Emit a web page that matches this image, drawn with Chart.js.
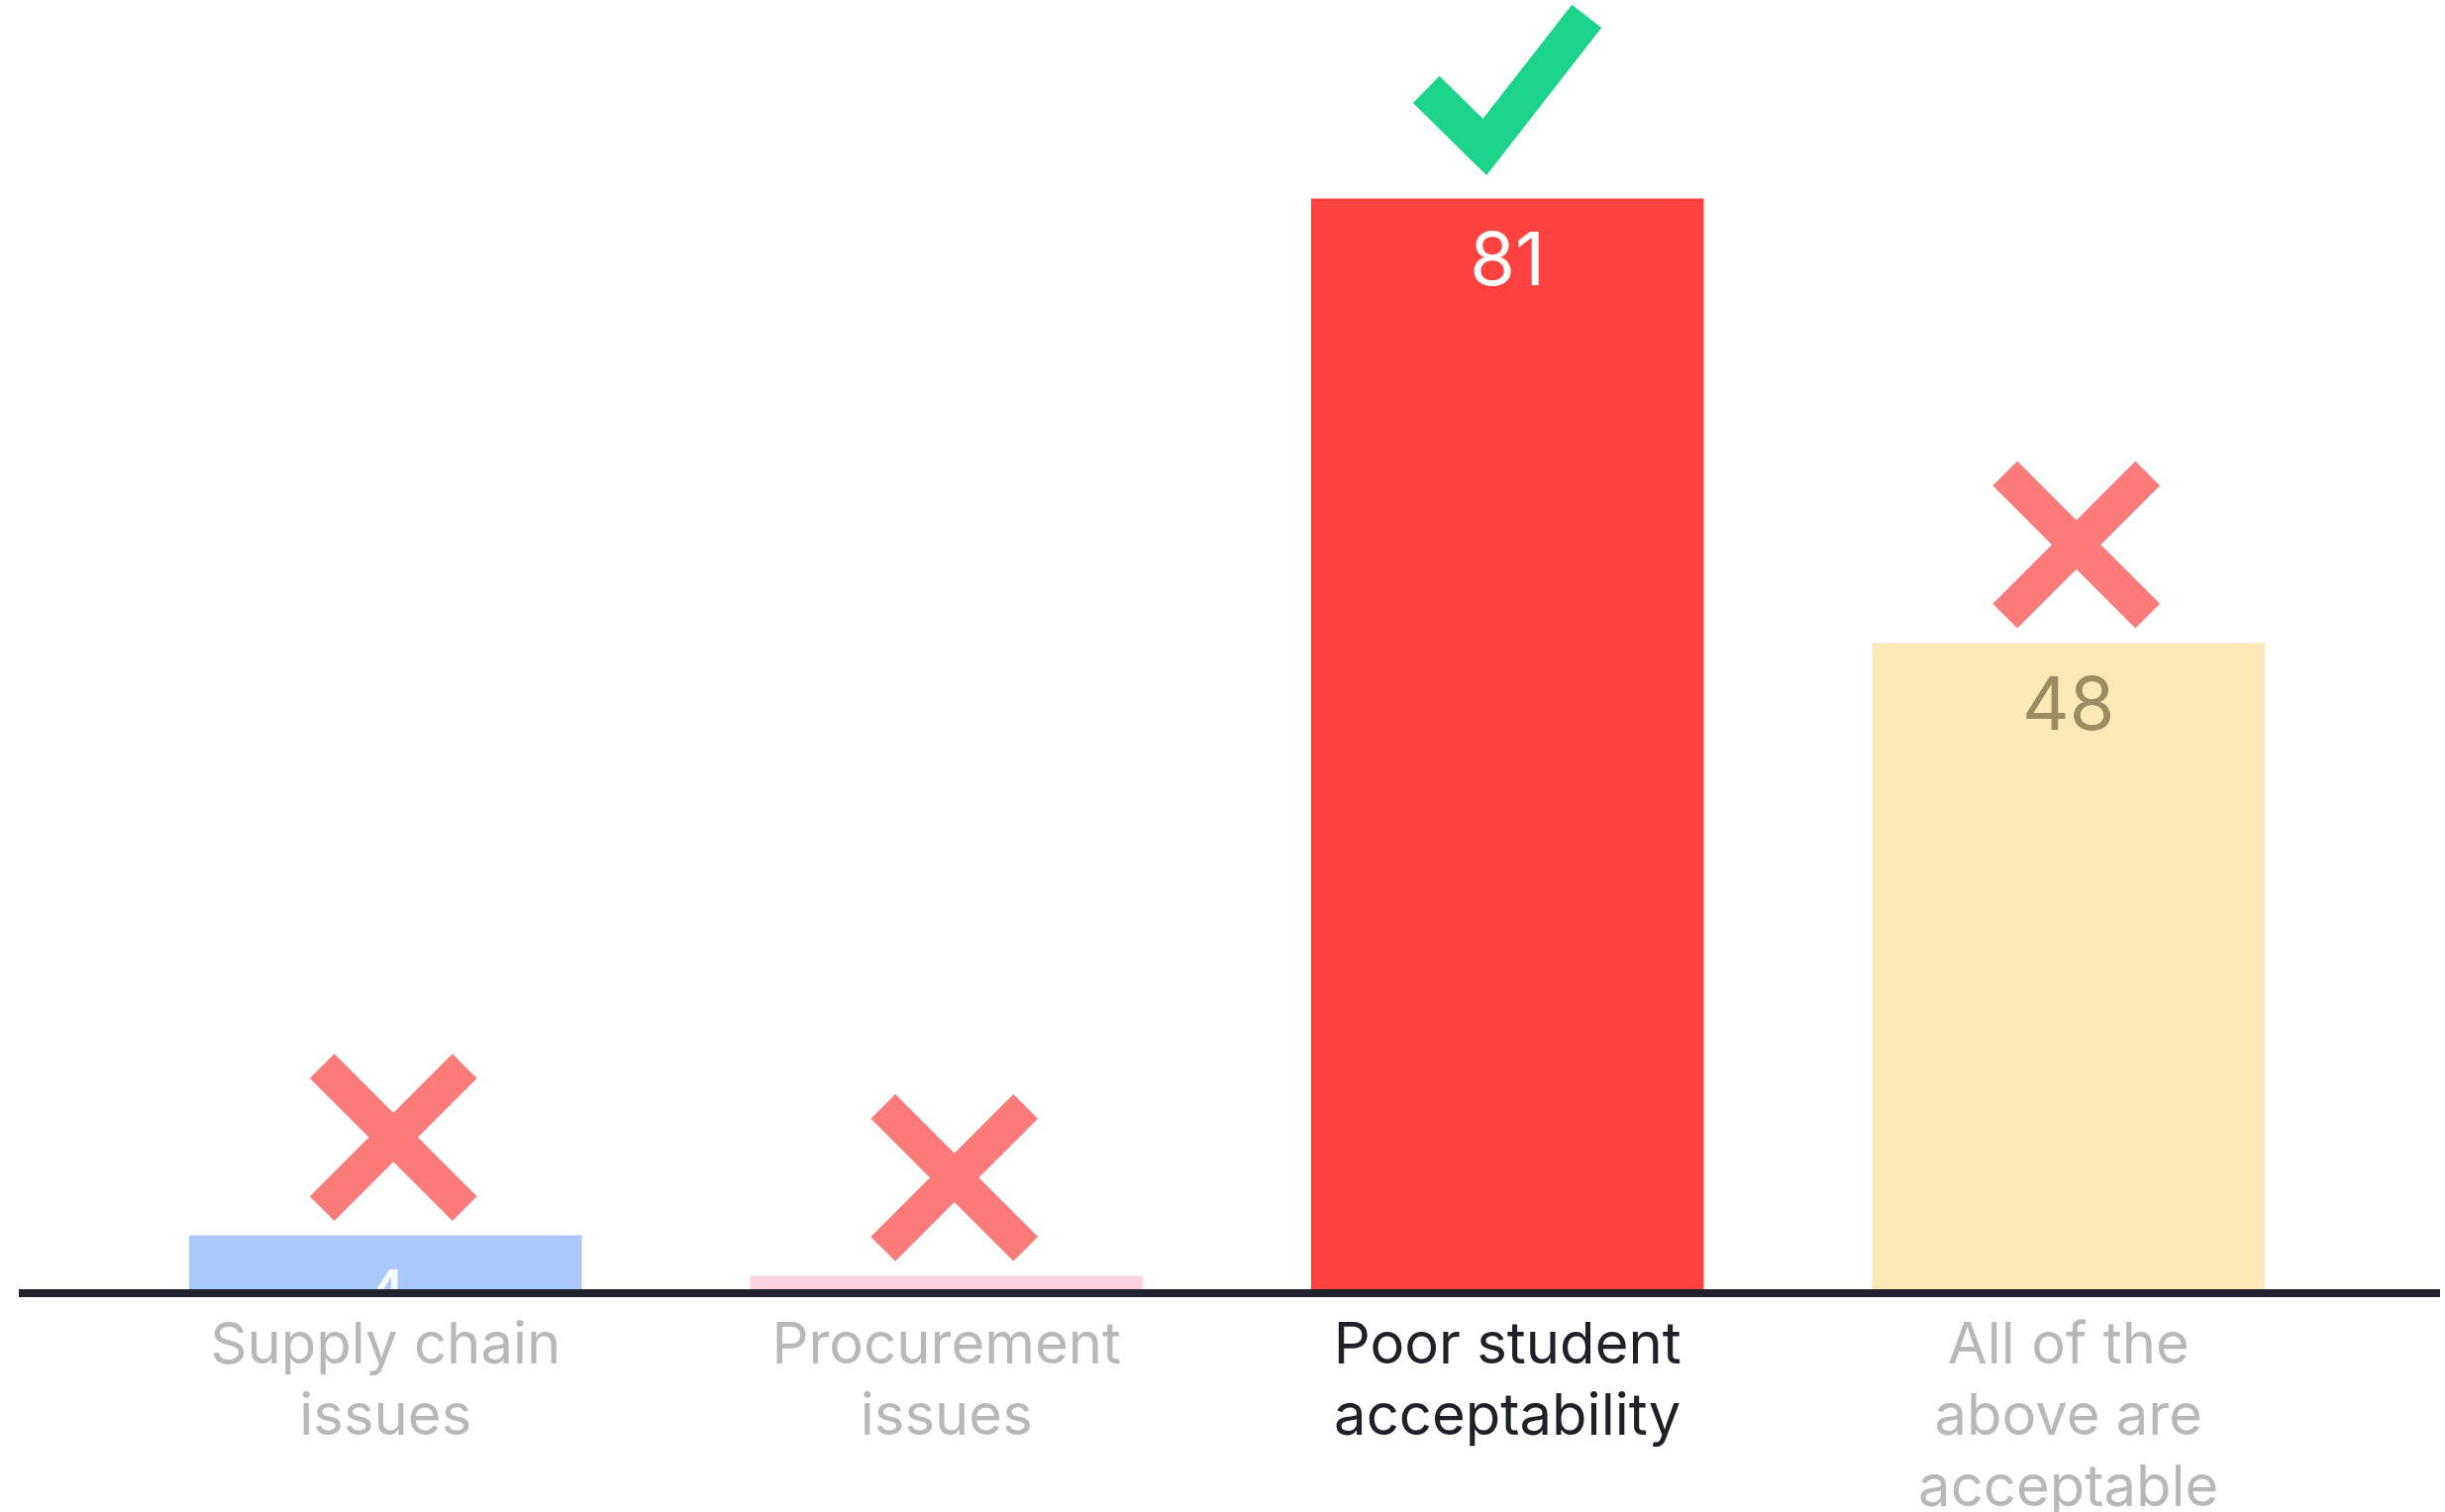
<!DOCTYPE html>
<html>
<head>
<meta charset="utf-8">
<script src="https://cdn.jsdelivr.net/npm/chart.js@4.4.1/dist/chart.umd.min.js"></script>
<style>
  html, body { margin: 0; padding: 0; background: #ffffff; }
  #wrap { width: 2469px; height: 1527px; position: relative; }
</style>
</head>
<body>
<div id="wrap"><canvas id="quizChart"></canvas></div>
<script>
// answers and vote counts
const answers = [
    ['Supply chain', 'issues'],
    ['Procurement', 'issues'],
    ['Poor student', 'acceptability'],
    ['All of the', 'above are', 'acceptable']
];
const votes = [4, 1, 81, 48];
const isCorrect = [false, false, true, false];

const barColors = ['#abc8fa', '#fdd3e2', '#ff4240', '#fde9b7'];
const valueColors = ['rgba(255,255,255,0.9)', 'rgba(255,255,255,0.9)', '#ffffff', '#9b8c66'];
const labelColors = ['#b8b8b8', '#b8b8b8', '#1f2128', '#b8b8b8'];

// baseline, value labels and the tick / cross markers
const markersPlugin = {
    id: 'markers',
    afterDatasetsDraw(chart) {
        const ctx = chart.ctx;
        const meta = chart.getDatasetMeta(0);
        const base = chart.chartArea.bottom;

        ctx.save();
        ctx.fillStyle = '#22252d';
        ctx.fillRect(19, base, 2445, 8);

        meta.data.forEach((bar, i) => {
            // value
            ctx.fillStyle = valueColors[i];
            ctx.font = '400 74px Inter';
            ctx.textAlign = 'center';
            ctx.textBaseline = 'alphabetic';
            ctx.save();
            ctx.beginPath();
            ctx.rect(bar.x - bar.width / 2, bar.y, bar.width, base - bar.y);
            ctx.clip();
            ctx.fillText(String(votes[i]), bar.x, bar.y + 88);
            ctx.restore();

            ctx.lineCap = 'butt';
            if (isCorrect[i]) {
                ctx.strokeStyle = '#1bd38b';
                ctx.lineWidth = 38;
                ctx.lineJoin = 'miter';
                ctx.beginPath();
                ctx.moveTo(bar.x - 82, bar.y - 110);
                ctx.lineTo(bar.x - 23, bar.y - 52);
                ctx.lineTo(bar.x + 80, bar.y - 184);
                ctx.stroke();
            } else {
                const cx = bar.x + 8;
                const cy = bar.y - 99;
                const a = 72;
                ctx.strokeStyle = '#fb7b7b';
                ctx.lineWidth = 35;
                ctx.beginPath();
                ctx.moveTo(cx - a, cy - a);
                ctx.lineTo(cx + a, cy + a);
                ctx.moveTo(cx + a, cy - a);
                ctx.lineTo(cx - a, cy + a);
                ctx.stroke();
            }
        });
        ctx.restore();
    }
};

const ctx = document.getElementById('quizChart').getContext('2d');
const quizChart = new Chart(ctx, {
    type: 'bar',
    data: {
        labels: answers,
        datasets: [{
            data: votes,
            backgroundColor: barColors,
            borderWidth: 0,
            barPercentage: 0.7,
            categoryPercentage: 1.0
        }]
    },
    options: {
        responsive: true,
        maintainAspectRatio: false,
        animation: false,
        layout: {
            padding: { top: 10, left: 106, right: 97, bottom: 0 }
        },
        plugins: {
            legend: { display: false },
            tooltip: { enabled: false }
        },
        scales: {
            y: {
                display: false,
                min: 0,
                max: 95
            },
            x: {
                grid: { display: false, drawTicks: false },
                border: { display: false },
                ticks: {
                    padding: 22,
                    color: (c) => labelColors[c.index],
                    font: { family: 'Inter', size: 58, lineHeight: 1.24 },
                    maxRotation: 0,
                    autoSkip: false
                },
                afterFit(scale) {
                    scale.height = 225;
                }
            }
        }
    },
    plugins: [markersPlugin]
});
</script>
</body>
</html>
